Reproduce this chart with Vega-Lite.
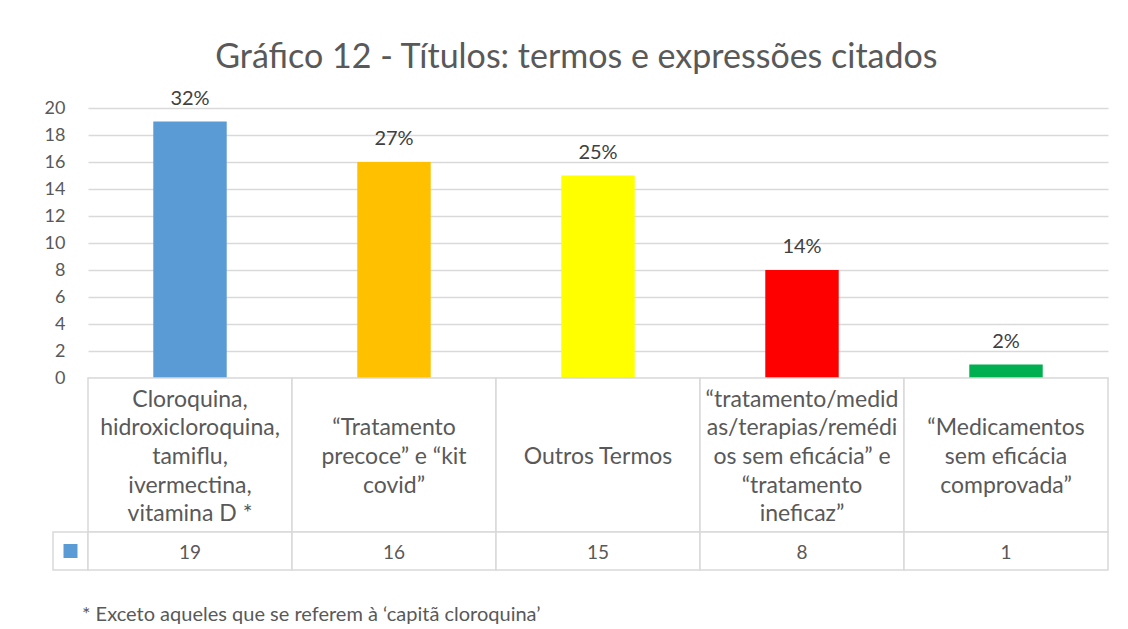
{
  "$schema": "https://vega.github.io/schema/vega-lite/v6.json",
  "padding": {"left": 44, "top": 40, "right": 5, "bottom": 5},
  "title": {
    "text": "Gráfico 12 - Títulos: termos e expressões citados",
    "fontSize": 34,
    "fontWeight": "normal",
    "color": "#595959",
    "font": "Lato",
    "anchor": "middle",
    "offset": 14
  },
  "config": {
    "view": {"stroke": null},
    "font": "Lato"
  },
  "datasets": {
    "main": [
      {"cat": "A", "label": "Cloroquina,\nhidroxicloroquina,\ntamiflu,\nivermectina,\nvitamina D *", "n": 19, "pct": "32%"},
      {"cat": "B", "label": "“Tratamento\nprecoce” e “kit\ncovid”", "n": 16, "pct": "27%"},
      {"cat": "C", "label": "Outros Termos", "n": 15, "pct": "25%"},
      {"cat": "D", "label": "“tratamento/medid\nas/terapias/remédi\nos sem eficácia” e\n“tratamento\nineficaz”", "n": 8, "pct": "14%"},
      {"cat": "E", "label": "“Medicamentos\nsem eficácia\ncomprovada”", "n": 1, "pct": "2%"}
    ],
    "key": [{"series": "Série1"}]
  },
  "bounds": "flush",
  "spacing": 0,
  "columns": 2,
  "concat": [
    {"width": 35, "height": 270, "data": {"name": "key"}, "mark": {"type": "text", "text": ""}},
    {
      "width": 1020,
      "height": 270,
      "data": {"name": "main"},
      "encoding": {
        "x": {"field": "cat", "type": "nominal", "sort": null, "axis": null,
              "scale": {"paddingInner": 0.64, "paddingOuter": 0.32}},
        "y": {"field": "n", "type": "quantitative",
              "scale": {"domain": [0, 20]},
              "axis": {"values": [0, 2, 4, 6, 8, 10, 12, 14, 16, 18, 20], "title": null,
                       "domain": false, "ticks": false, "gridColor": "#d9d9d9", "gridWidth": 1.5,
                       "labelColor": "#595959", "labelFontSize": 18, "labelPadding": 23,
                       "labelFont": "Lato"}}
      },
      "layer": [
        {"mark": {"type": "bar"},
         "encoding": {"color": {"field": "cat", "type": "nominal", "legend": null,
                                "scale": {"domain": ["A", "B", "C", "D", "E"],
                                          "range": ["#5b9bd5", "#ffc000", "#ffff00", "#ff0000", "#00b050"]}}}},
        {"mark": {"type": "text", "baseline": "alphabetic", "dy": -17, "fontSize": 20, "color": "#404040"},
         "encoding": {"text": {"field": "pct"}}}
      ]
    },
    {"width": 35, "height": 154, "data": {"name": "key"}, "mark": {"type": "text", "text": ""}},
    {
      "width": 1020,
      "height": 154,
      "data": {"name": "main"},
      "encoding": {
        "x": {"field": "cat", "type": "nominal", "sort": null, "axis": null,
              "scale": {"paddingInner": 0, "paddingOuter": 0}},
        "y": {"datum": "row", "type": "nominal", "axis": null}
      },
      "layer": [
        {"mark": {"type": "rect", "fill": "#ffffff", "stroke": "#d9d9d9", "strokeWidth": 1.5},
         "encoding": {"y": null}},
        {"transform": [{"filter": "length(split(datum.label, '\\n')) == 5"}],
         "mark": {"type": "text", "fontSize": 23, "color": "#595959", "lineBreak": "\n", "lineHeight": 28.7, "baseline": "middle", "dy": -55.4},
         "encoding": {"text": {"field": "label"}}},
        {"transform": [{"filter": "length(split(datum.label, '\\n')) == 3"}],
         "mark": {"type": "text", "fontSize": 23, "color": "#595959", "lineBreak": "\n", "lineHeight": 28.7, "baseline": "middle", "dy": -26.7},
         "encoding": {"text": {"field": "label"}}},
        {"transform": [{"filter": "length(split(datum.label, '\\n')) == 1"}],
         "mark": {"type": "text", "fontSize": 23, "color": "#595959", "baseline": "middle", "dy": 2},
         "encoding": {"text": {"field": "label"}}}
      ]
    },
    {
      "width": 35,
      "height": 38,
      "data": {"name": "key"},
      "title": {
        "text": "* Exceto aqueles que se referem à ‘capitã cloroquina’",
        "orient": "bottom",
        "anchor": "start",
        "frame": "group",
        "fontSize": 20,
        "fontWeight": "normal",
        "color": "#595959",
        "font": "Lato",
        "dx": 29,
        "offset": 34
      },
      "layer": [
        {"mark": {"type": "rect", "fill": "#ffffff", "stroke": "#d9d9d9", "strokeWidth": 1.5}, "encoding": {}},
        {"mark": {"type": "point", "shape": "square", "filled": true, "size": 196, "opacity": 1, "color": "#5b9bd5"}, "encoding": {}}
      ]
    },
    {
      "width": 1020,
      "height": 38,
      "data": {"name": "main"},
      "encoding": {
        "x": {"field": "cat", "type": "nominal", "sort": null, "axis": null,
              "scale": {"paddingInner": 0, "paddingOuter": 0}}
      },
      "layer": [
        {"mark": {"type": "rect", "fill": "#ffffff", "stroke": "#d9d9d9", "strokeWidth": 1.5}},
        {"mark": {"type": "text", "fontSize": 19, "color": "#595959", "baseline": "middle", "dy": 2},
         "encoding": {"text": {"field": "n"},
                      "y": {"datum": "row", "type": "nominal", "axis": null}}}
      ]
    }
  ]
}
